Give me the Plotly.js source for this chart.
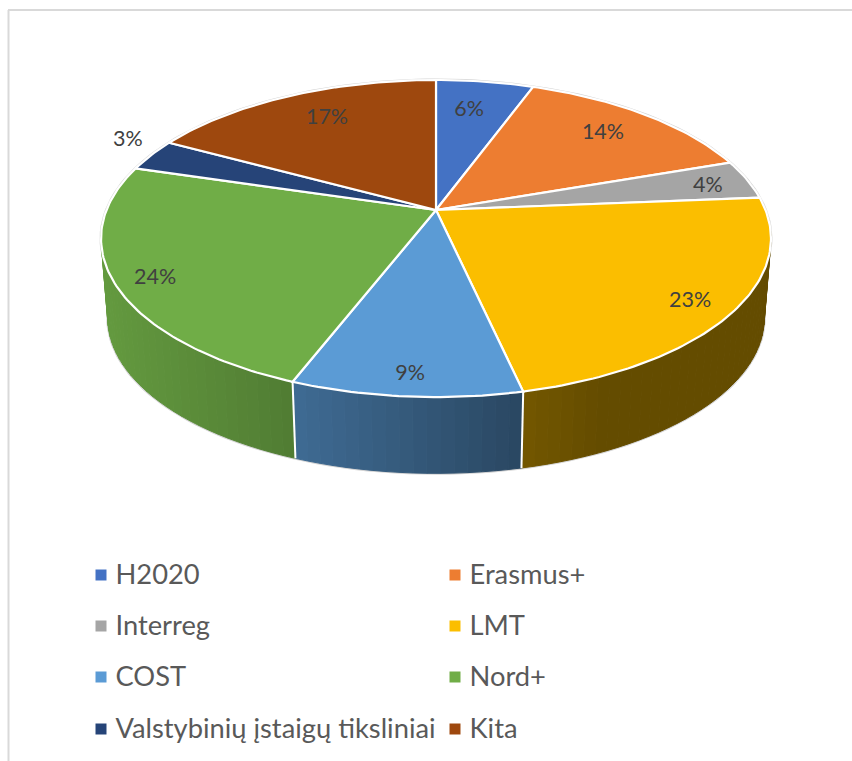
<!DOCTYPE html>
<html>
<head>
<meta charset="utf-8">
<script src="https://cdn.plot.ly/plotly-3.0.1.min.js"></script>
<style>html,body{margin:0;padding:0;background:#fff;overflow:hidden}</style>
</head>
<body>
<div id="chart" style="width:852px;height:761px"></div>
<script>
const categories = ["H2020","Erasmus+","Interreg","LMT","COST","Nord+","Valstybinių įstaigų tiksliniai","Kita"];
const values = [5.6,14.1,4.0,22.8,9.4,23.7,3.3,17.1];
const labels = ["6%","14%","4%","23%","9%","24%","3%","17%"];
const colors = ["#4472C4","#ED7D31","#A5A5A5","#FBBE00","#5B9BD5","#70AD47","#264478","#9E480E"];
const labelRadius = [0.785,0.812,0.875,0.867,0.878,0.882,1.154,0.797];
const labelAngleOffset = [-1.7,-1.9,-0.8,-0.2,0,0.2,4.9,2.9];

// projection of the tilted disc (perspective) into the page's coordinate axes
const cx=436, cy=210, A=329.5, B=153.4, K=0.18, depthY=80, depthScale=0.98, labelDy=5;
function proj(deg,r,bottom){
  const t=deg*Math.PI/180, u=r*Math.sin(t), v=r*Math.cos(t), d=1+K*v, s=bottom?depthScale:1;
  return [cx+s*A*u/d, cy+(bottom?depthY:0)-s*B*v/d];
}
const shadeStops=[[100,.89],[290,.72],[295,.69],[522,.46],[600,.40],[780,.40]];
function shade(x){
  for(let i=1;i<shadeStops.length;i++){
    const a=shadeStops[i-1], b=shadeStops[i];
    if(x<=b[0]) return a[1]+(b[1]-a[1])*Math.max(0,(x-a[0]))/(b[0]-a[0]);
  }
  return .40;
}
function tint(hex,f){
  const n=parseInt(hex.slice(1),16);
  return `rgb(${Math.round((n>>16&255)*f)},${Math.round((n>>8&255)*f)},${Math.round((n&255)*f)})`;
}
const total=values.reduce((a,b)=>a+b,0);
const edges=[0];
values.forEach(v=>edges.push(edges[edges.length-1]+v/total*360));

const traces=[];
const base={hoverinfo:"skip",showlegend:false,type:"scatter",mode:"lines"};
// faint outer outline
[false,true].forEach(b=>{
  const xs=[],ys=[];
  for(let a=0;a<=360;a+=2){const p=proj(a,1,b);xs.push(p[0]);ys.push(p[1]);}
  traces.push({...base,x:xs,y:ys,line:{color:"#d4d4d4",width:3}});
});
// side walls
values.forEach((v,i)=>{
  const a0=edges[i],a1=edges[i+1];
  const n=Math.max(1,Math.ceil((a1-a0)/2));
  for(let j=0;j<n;j++){
    const s=a0+(a1-a0)*j/n, e=a0+(a1-a0)*(j+1)/n;
    if(Math.cos(s*Math.PI/180)>0.45 && Math.cos(e*Math.PI/180)>0.45) continue;
    const p=[proj(s,1,false),proj(e,1,false),proj(e,1,true),proj(s,1,true)];
    const c=tint(colors[i],shade((p[0][0]+p[1][0])/2));
    traces.push({...base,x:[...p.map(q=>q[0]),p[0][0]],y:[...p.map(q=>q[1]),p[0][1]],
      fill:"toself",fillcolor:c,line:{color:c,width:1}});
  }
});
// wall separators
edges.slice(0,-1).forEach(a=>{
  if(Math.cos(a*Math.PI/180)<-0.5){
    const p=proj(a,1,false),q=proj(a,1,true);
    traces.push({...base,x:[p[0],q[0]],y:[p[1],q[1]],line:{color:"#ffffff",width:2}});
  }
});
// top face slices
values.forEach((v,i)=>{
  const xs=[cx],ys=[cy];
  const n=Math.ceil((edges[i+1]-edges[i])/1);
  for(let j=0;j<=n;j++){
    const p=proj(edges[i]+(edges[i+1]-edges[i])*j/n,1,false);
    xs.push(p[0]);ys.push(p[1]);
  }
  xs.push(cx);ys.push(cy);
  traces.push({...base,name:categories[i],x:xs,y:ys,fill:"toself",fillcolor:colors[i],
    line:{color:"#ffffff",width:2.2}});
});
// data labels
const lp=values.map((v,i)=>proj((edges[i]+edges[i+1])/2+labelAngleOffset[i],labelRadius[i],false));
traces.push({...base,mode:"text",x:lp.map(p=>p[0]),y:lp.map(p=>p[1]+labelDy),text:labels,
  textposition:"middle center",textfont:{family:"Lato, 'Open Sans', sans-serif",size:21.5,color:"#404040"}});
// legend
const legendColX=[101,455], legendRowY=[575,626,677,729], legendGap=14.5, legendTextDy=2;
const lx=categories.map((c,i)=>legendColX[i%2]), ly=categories.map((c,i)=>legendRowY[Math.floor(i/2)]);
traces.push({...base,mode:"markers",x:lx,y:ly,marker:{symbol:"square",size:11,color:colors}});
traces.push({...base,mode:"text",x:lx.map(v=>v+legendGap),y:ly.map(v=>v+legendTextDy),text:categories,textposition:"middle right",
  textfont:{family:"Lato, 'Open Sans', sans-serif",size:27.3,color:"#595959"}});

const axis={visible:false,fixedrange:true,showgrid:false,zeroline:false};
const layout={width:852,height:761,margin:{l:0,r:0,t:0,b:0},paper_bgcolor:"#fff",plot_bgcolor:"#fff",showlegend:false,
  xaxis:{...axis,range:[0,852]},yaxis:{...axis,range:[761,0]},
  shapes:[
    {type:"line",xref:"paper",yref:"paper",x0:8.5/852,x1:8.5/852,y0:0,y1:1-10/761,line:{color:"#d9d9d9",width:2},layer:"below"},
    {type:"line",xref:"paper",yref:"paper",x0:8/852,x1:1,y0:1-10/761,y1:1-10/761,line:{color:"#d9d9d9",width:2},layer:"below"}
  ]};
Plotly.newPlot("chart",traces,layout,{displayModeBar:false,staticPlot:true});
</script>
</body>
</html>
